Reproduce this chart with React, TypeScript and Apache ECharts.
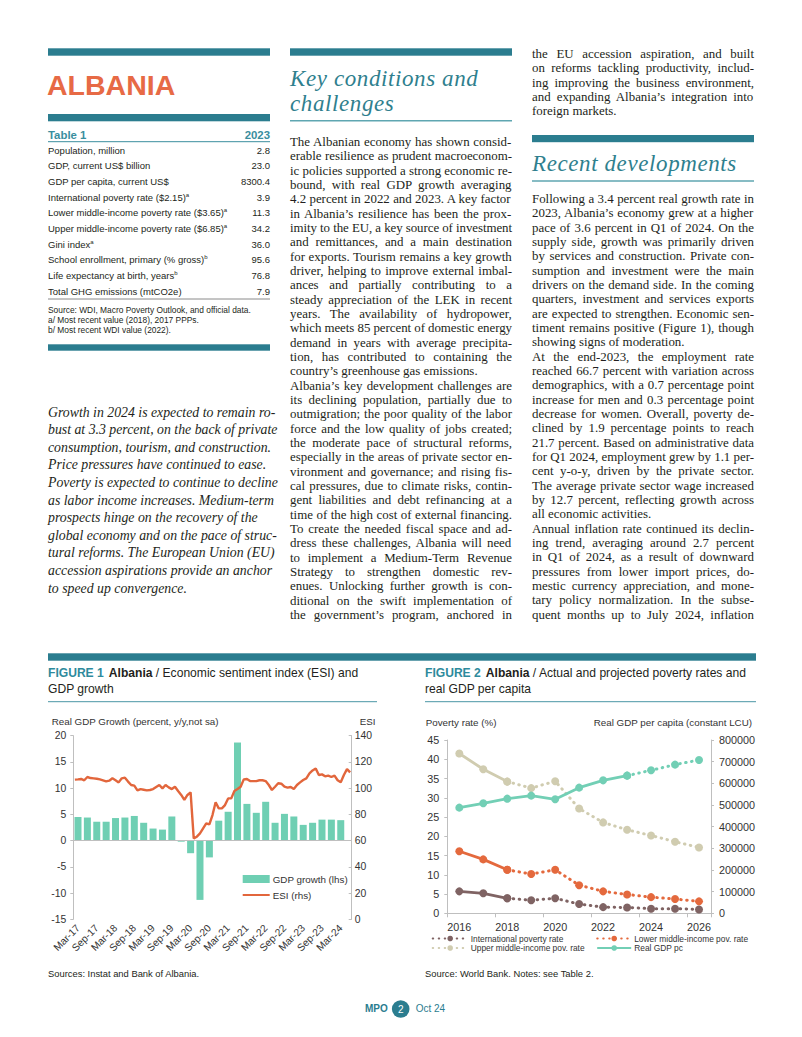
import React, { useEffect, useRef } from "react";
import * as echarts from "echarts";

const SERIF = "'Liberation Serif', 'Times New Roman', serif";
const SANS = "'Liberation Sans', Arial, sans-serif";
const TEAL = "#2b7d8f";
const TEAL_TXT = "#2e8a9c";
const HEAD_TEAL = "#2f7f8e";
const INK = "#231f20";
const BODY_SIZE = 12.9;

// ---------- Table 1 ----------
const tableLabels = [
  "Population, million",
  "GDP, current US$ billion",
  "GDP per capita, current US$",
  "International poverty rate ($2.15)",
  "Lower middle-income poverty rate ($3.65)",
  "Upper middle-income poverty rate ($6.85)",
  "Gini index",
  "School enrollment, primary (% gross)",
  "Life expectancy at birth, years",
  "Total GHG emissions (mtCO2e)",
];
const tableSup = ["", "", "", "a", "a", "a", "a", "b", "b", ""];
const tableValues = ["2.8", "23.0", "8300.4", "3.9", "11.3", "34.2", "36.0", "95.6", "76.8", "7.9"];
const tableNotes = [
  "Source: WDI, Macro Poverty Outlook, and official data.",
  "a/ Most recent value (2018), 2017 PPPs.",
  "b/ Most recent WDI value (2022).",
];

// ---------- Text ----------
const summaryLines = [
  "Growth in 2024 is expected to remain ro-",
  "bust at 3.3 percent, on the back of private",
  "consumption, tourism, and construction.",
  "Price pressures have continued to ease.",
  "Poverty is expected to continue to decline",
  "as labor income increases. Medium-term",
  "prospects hinge on the recovery of the",
  "global economy and on the pace of struc-",
  "tural reforms. The European Union (EU)",
  "accession aspirations provide an anchor",
  "to speed up convergence.",
];

// "|" at the end marks the last line of a paragraph (not justified)
const keyLines = [
  "The Albanian economy has shown consid-",
  "erable resilience as prudent macroeconom-",
  "ic policies supported a strong economic re-",
  "bound, with real GDP growth averaging",
  "4.2 percent in 2022 and 2023. A key factor",
  "in Albania’s resilience has been the prox-",
  "imity to the EU, a key source of investment",
  "and remittances, and a main destination",
  "for exports. Tourism remains a key growth",
  "driver, helping to improve external imbal-",
  "ances and partially contributing to a",
  "steady appreciation of the LEK in recent",
  "years. The availability of hydropower,",
  "which meets 85 percent of domestic energy",
  "demand in years with average precipita-",
  "tion, has contributed to containing the",
  "country’s greenhouse gas emissions.|",
  "Albania’s key development challenges are",
  "its declining population, partially due to",
  "outmigration; the poor quality of the labor",
  "force and the low quality of jobs created;",
  "the moderate pace of structural reforms,",
  "especially in the areas of private sector en-",
  "vironment and governance; and rising fis-",
  "cal pressures, due to climate risks, contin-",
  "gent liabilities and debt refinancing at a",
  "time of the high cost of external financing.",
  "To create the needed fiscal space and ad-",
  "dress these challenges, Albania will need",
  "to implement a Medium-Term Revenue",
  "Strategy to strengthen domestic rev-",
  "enues. Unlocking further growth is con-",
  "ditional on the swift implementation of",
  "the government’s program, anchored in",
];
const keyContLines = [
  "the EU accession aspiration, and built",
  "on reforms tackling productivity, includ-",
  "ing improving the business environment,",
  "and expanding Albania’s integration into",
  "foreign markets.|",
];
const recentLines = [
  "Following a 3.4 percent real growth rate in",
  "2023, Albania’s economy grew at a higher",
  "pace of 3.6 percent in Q1 of 2024. On the",
  "supply side, growth was primarily driven",
  "by services and construction. Private con-",
  "sumption and investment were the main",
  "drivers on the demand side. In the coming",
  "quarters, investment and services exports",
  "are expected to strengthen. Economic sen-",
  "timent remains positive (Figure 1), though",
  "showing signs of moderation.|",
  "At the end-2023, the employment rate",
  "reached 66.7 percent with variation across",
  "demographics, with a 0.7 percentage point",
  "increase for men and 0.3 percentage point",
  "decrease for women. Overall, poverty de-",
  "clined by 1.9 percentage points to reach",
  "21.7 percent. Based on administrative data",
  "for Q1 2024, employment grew by 1.1 per-",
  "cent y-o-y, driven by the private sector.",
  "The average private sector wage increased",
  "by 12.7 percent, reflecting growth across",
  "all economic activities.|",
  "Annual inflation rate continued its declin-",
  "ing trend, averaging around 2.7 percent",
  "in Q1 of 2024, as a result of downward",
  "pressures from lower import prices, do-",
  "mestic currency appreciation, and mone-",
  "tary policy normalization. In the subse-",
  "quent months up to July 2024, inflation",
];

// ---------- Figure 1 ----------
const fig1TickLabels = [
  "Mar-17", "Sep-17", "Mar-18", "Sep-18", "Mar-19", "Sep-19", "Mar-20", "Sep-20",
  "Mar-21", "Sep-21", "Mar-22", "Sep-22", "Mar-23", "Sep-23", "Mar-24",
];
const monthNames = ["Jan", "Feb", "Mar", "Apr", "May", "Jun", "Jul", "Aug", "Sep", "Oct", "Nov", "Dec"];
// ESI, monthly, Feb-17 .. Jun-24
const esiMonthly = [
  106.5, 106.7, 107.0, 106.0, 108.5, 107.7, 107.5, 107.2, 106.7, 106.0, 105.2,
  105.7, 107.5, 106.0, 104.4, 107.5, 108.0, 105.0, 102.4, 101.9, 98.3, 99.3, 98.8,
  98.3, 98.6, 99.3, 100.9, 102.4, 99.8, 102.4, 100.6, 99.3, 101.1, 97.8, 94.8,
  91.0, 94.8, 96.8, 61.7, 63.0, 65.5, 69.4, 73.2, 72.4, 79.5, 89.2, 84.6,
  84.6, 87.1, 92.2, 92.2, 97.8, 99.3, 101.1, 106.7, 107.0, 105.4, 105.4, 105.4,
  106.0, 106.0, 105.4, 102.4, 98.6, 101.1, 103.7, 103.4, 101.1, 100.4, 100.9, 99.3,
  102.4, 104.4, 106.2, 107.5, 111.3, 113.5, 115.0, 110.0, 110.5, 109.0, 109.5, 108.5,
  109.5, 106.0, 104.5, 110.0, 114.5, 112.0,
];
// Real GDP growth, quarterly, Q1-17 .. Q1-24
const gdpGrowthQuarterly = [
  4.5, 4.4, 3.6, 3.6,
  4.3, 4.4, 4.7, 3.4,
  2.3, 2.1, 4.6, -0.2,
  -2.4, -11.3, -3.2, 3.8,
  5.5, 18.7, 7.0, 5.3,
  7.4, 3.4, 5.1, 4.6,
  3.0, 3.4, 4.0, 4.0,
  3.9,
];

// ---------- Figure 2 ----------
const fig2Years = ["2016", "2017", "2018", "2019", "2020", "2021", "2022", "2023", "2024", "2025", "2026"];
const intlPoverty = [5.7, 5.2, 3.9, 3.4, 3.9, 2.4, 1.6, 1.5, 1.2, 1.2, 1.0];
const lowerMidPoverty = [16.1, 14.0, 11.3, 10.2, 11.3, 7.3, 5.7, 4.9, 4.2, 3.7, 3.1];
const upperMidPoverty = [41.5, 37.4, 34.2, 32.5, 34.3, 27.2, 23.6, 21.7, 20.2, 18.6, 17.1];
const realGdpPc = [487700, 507700, 529200, 543100, 526200, 580000, 613800, 635400, 660000, 686200, 707700];
const povertyLastActual = 2; // 2018
const gdpLastActual = 7; // 2023

// ---------- helpers ----------
let measureCtx: CanvasRenderingContext2D | null = null;
function textWidth(t: string, font: string): number {
  if (typeof document === "undefined") return 0;
  if (!measureCtx) measureCtx = document.createElement("canvas").getContext("2d");
  if (!measureCtx) return 0;
  measureCtx.font = font;
  return measureCtx.measureText(t).width;
}

function JLine(props: { x: number; y: number; w: number; raw: string; size?: number }) {
  const size = props.size ?? BODY_SIZE;
  const end = props.raw.endsWith("|");
  const text = end ? props.raw.slice(0, -1) : props.raw;
  const font = `${size}px "Liberation Serif"`;
  const nat = textWidth(text, font);
  let ws = 0;
  let ls = 0;
  const diff = props.w - nat;
  if (nat > 0) {
    if (!end && diff > 0) {
      const spaces = (text.match(/ /g) || []).length;
      if (spaces > 0) ws = diff / spaces;
    } else if (diff < 0) {
      ls = diff / text.length;
    }
  }
  return (
    <text
      x={props.x}
      y={props.y}
      fontFamily={SERIF}
      fontSize={size}
      fill={INK}
      style={{ wordSpacing: `${ws}px`, letterSpacing: `${ls}px`, whiteSpace: "pre" }}
    >
      {text}
    </text>
  );
}

function PageText() {
  const rowY0 = 153.5;
  const rowStep = 15.68;
  const headStyle = { letterSpacing: "0.6px" };
  return (
    <svg width={802} height={1037} style={{ position: "absolute", left: 0, top: 0 }}>
      <rect x={0} y={0} width={802} height={1037} fill="#ffffff" />
      {/* column 1 */}
      <rect x={48} y={48.3} width={222} height={7.4} fill={TEAL} />
      <text x={47} y={95} fontFamily={SANS} fontWeight="bold" fontSize={28.5} fill="#e76a45">
        ALBANIA
      </text>
      <rect x={48} y={114} width={222} height={7.3} fill={TEAL} />
      <text x={48} y={138.6} fontFamily={SANS} fontWeight="bold" fontSize={11.4} fill="#3a8e9e">
        Table 1
      </text>
      <text x={270} y={138.6} textAnchor="end" fontFamily={SANS} fontWeight="bold" fontSize={11.4} fill="#3a8e9e">
        2023
      </text>
      <line x1={48} x2={270} y1={141.7} y2={141.7} stroke="#3a8e9e" strokeWidth={1} />
      {tableLabels.map((l, i) => (
        <g key={"tr" + i}>
          <text x={48} y={rowY0 + i * rowStep} fontFamily={SANS} fontSize={9.5} fill={INK}>
            {l}
            {tableSup[i] ? (
              <tspan fontSize={6} dy={-4}>
                {tableSup[i]}
              </tspan>
            ) : null}
          </text>
          <text x={270} y={rowY0 + i * rowStep} textAnchor="end" fontFamily={SANS} fontSize={9.5} fill={INK}>
            {tableValues[i]}
          </text>
        </g>
      ))}
      <line x1={48} x2={270} y1={299} y2={299} stroke="#6d6d6d" strokeWidth={0.8} />
      {tableNotes.map((n, i) => (
        <text key={"tn" + i} x={48} y={313.2 + i * 9.7} fontFamily={SANS} fontSize={8.4} fill={INK}>
          {n}
        </text>
      ))}
      <rect x={48} y={344.3} width={222} height={6.4} fill={TEAL} />
      {summaryLines.map((l, i) => (
        <text
          key={"s" + i}
          x={48}
          y={416.5 + i * 17.6}
          fontFamily={SERIF}
          fontStyle="italic"
          fontSize={13.8}
          fill={INK}
        >
          {l}
        </text>
      ))}

      {/* column 2 */}
      <rect x={290} y={48.3} width={222} height={7.4} fill={TEAL} />
      <text x={290} y={85.6} fontFamily={SERIF} fontStyle="italic" fontSize={23} fill={HEAD_TEAL} style={headStyle}>
        Key conditions and
      </text>
      <text x={290} y={111.2} fontFamily={SERIF} fontStyle="italic" fontSize={23} fill={HEAD_TEAL} style={headStyle}>
        challenges
      </text>
      <line x1={290} x2={512} y1={120.7} y2={120.7} stroke="#5fa6b1" strokeWidth={1.5} />
      {keyLines.map((l, i) => (
        <JLine key={"k" + i} x={290} y={146 + i * 14.33} w={222} raw={l} />
      ))}

      {/* column 3 */}
      {keyContLines.map((l, i) => (
        <JLine key={"kc" + i} x={532} y={58 + i * 14.33} w={222} raw={l} />
      ))}
      <rect x={532} y={135} width={222} height={7.2} fill={TEAL} />
      <text x={532} y={170.7} fontFamily={SERIF} fontStyle="italic" fontSize={23} fill={HEAD_TEAL} style={headStyle}>
        Recent developments
      </text>
      <line x1={532} x2={754} y1={181} y2={181} stroke="#5fa6b1" strokeWidth={1.5} />
      {recentLines.map((l, i) => (
        <JLine key={"r" + i} x={532} y={203 + i * 14.33} w={222} raw={l} />
      ))}

      {/* figures header */}
      <rect x={48} y={653.3} width={708} height={7.4} fill={TEAL} />
      <text x={48} y={677} fontFamily={SANS} fontSize={12.1} fill={INK}>
        <tspan fill={TEAL_TXT} fontWeight="bold">FIGURE 1</tspan>
        <tspan dx={5} fontWeight="bold">Albania</tspan>
        <tspan> / Economic sentiment index (ESI) and</tspan>
      </text>
      <text x={48} y={692.6} fontFamily={SANS} fontSize={12.1} fill={INK}>
        GDP growth
      </text>
      <line x1={48} x2={377} y1={701.7} y2={701.7} stroke="#4a97a6" strokeWidth={1} />
      <text x={425} y={677} fontFamily={SANS} fontSize={12.1} fill={INK}>
        <tspan fill={TEAL_TXT} fontWeight="bold">FIGURE 2</tspan>
        <tspan dx={5} fontWeight="bold">Albania</tspan>
        <tspan> / Actual and projected poverty rates and</tspan>
      </text>
      <text x={425} y={692.6} fontFamily={SANS} fontSize={12.1} fill={INK}>
        real GDP per capita
      </text>
      <line x1={425} x2={756} y1={701.7} y2={701.7} stroke="#4a97a6" strokeWidth={1} />
      <text x={48} y={976.6} fontFamily={SANS} fontSize={9.4} fill={INK}>
        Sources: Instat and Bank of Albania.
      </text>
      <text x={425} y={976.6} fontFamily={SANS} fontSize={9.4} fill={INK}>
        Source: World Bank. Notes: see Table 2.
      </text>

      {/* footer */}
      <text x={365} y={1012} fontFamily={SANS} fontWeight="bold" fontSize={10} fill={TEAL}>
        MPO
      </text>
      <circle cx={400.7} cy={1009} r={8.8} fill={TEAL} />
      <text x={400.7} y={1012.5} textAnchor="middle" fontFamily={SANS} fontSize={10} fill="#ffffff">
        2
      </text>
      <text x={415.7} y={1012} fontFamily={SANS} fontSize={10} fill={TEAL}>
        Oct 24
      </text>
    </svg>
  );
}

function buildOption() {
  const months: string[] = [];
  for (let k = 0; k < esiMonthly.length; k++) {
    const idx = 1 + k; // Feb-17 start
    months.push(`${monthNames[idx % 12]}-${17 + Math.floor(idx / 12)}`);
  }
  const tickSet = new Set(fig1TickLabels);
  const gdpMonthly = months.map((_, i) => ((i - 1) % 3 === 0 ? gdpGrowthQuarterly[(i - 1) / 3] ?? null : null));

  const axisGrey = "#bfbfbf";
  const lbl = "#333333";
  const dotted = [0.5, 5.5];

  const povSeries = (name: string, data: number[], color: string) => [
    {
      name: name + " (actual)",
      type: "line",
      xAxisIndex: 1,
      yAxisIndex: 2,
      data: data.map((v, i) => (i <= povertyLastActual ? v : null)),
      symbol: "circle",
      symbolSize: 8,
      itemStyle: { color },
      lineStyle: { color, width: 2.8 },
      z: 3,
    },
    {
      name,
      type: "line",
      xAxisIndex: 1,
      yAxisIndex: 2,
      data: data.map((v, i) => (i >= povertyLastActual ? v : null)),
      symbol: "circle",
      symbolSize: 8,
      itemStyle: { color },
      lineStyle: { color, width: 3, type: dotted, cap: "round" },
      z: 2,
    },
  ];

  const gdpColor = "#72cfb5";

  return {
    animation: false,
    textStyle: { fontFamily: SANS },
    grid: [
      { left: 73.3, top: 735.7, width: 278.4, height: 183.6, containLabel: false, outerBoundsMode: "none" },
      { left: 447.3, top: 740, width: 263.7, height: 173.3, containLabel: false, outerBoundsMode: "none" },
    ],
    xAxis: [
      {
        type: "category",
        gridIndex: 0,
        data: months,
        boundaryGap: true,
        axisLine: { show: false, onZero: false },
        axisTick: { show: false },
        axisLabel: {
          interval: (_i: number, v: string) => tickSet.has(v),
          rotate: 45,
          fontSize: 10.2,
          color: lbl,
          margin: 7,
          hideOverlap: false,
        },
      },
      {
        type: "category",
        gridIndex: 1,
        data: fig2Years,
        boundaryGap: true,
        axisLine: { show: true, lineStyle: { color: axisGrey } },
        axisTick: { show: true, length: 4, lineStyle: { color: axisGrey } },
        axisLabel: { interval: 1, fontSize: 10.8, color: lbl, margin: 8 },
      },
    ],
    yAxis: [
      {
        type: "value",
        gridIndex: 0,
        min: -15,
        max: 20,
        interval: 5,
        axisLine: { show: true, lineStyle: { color: axisGrey } },
        axisTick: { show: true, length: 3, lineStyle: { color: axisGrey } },
        splitLine: { show: false },
        axisLabel: { fontSize: 10.4, color: lbl, margin: 7 },
      },
      {
        type: "value",
        gridIndex: 0,
        position: "right",
        min: 0,
        max: 140,
        interval: 20,
        axisLine: { show: true, lineStyle: { color: axisGrey } },
        axisTick: { show: true, inside: true, length: 3, lineStyle: { color: axisGrey } },
        splitLine: { show: false },
        axisLabel: { fontSize: 10.4, color: lbl, margin: 3 },
      },
      {
        type: "value",
        gridIndex: 1,
        min: 0,
        max: 45,
        interval: 5,
        axisLine: { show: true, lineStyle: { color: axisGrey } },
        axisTick: { show: true, length: 3, lineStyle: { color: axisGrey } },
        splitLine: { show: false },
        axisLabel: { fontSize: 10.8, color: lbl, margin: 8 },
      },
      {
        type: "value",
        gridIndex: 1,
        position: "right",
        min: 0,
        max: 800000,
        interval: 100000,
        axisLine: { show: true, lineStyle: { color: axisGrey } },
        axisTick: { show: true, length: 3, lineStyle: { color: axisGrey } },
        splitLine: { show: false },
        axisLabel: { fontSize: 10.8, color: lbl, margin: 8, formatter: (v: number) => String(v) },
      },
    ],
    legend: [
      {
        left: 241.7,
        top: 874,
        padding: 0,
        orient: "vertical",
        itemWidth: 27,
        itemHeight: 8,
        itemGap: 6,
        textStyle: { fontSize: 9.8, color: lbl, padding: [0, 0, 0, -2] },
        data: [
          { name: "GDP growth (lhs)", icon: "rect" },
          { name: "ESI (rhs)", itemStyle: { opacity: 0 } },
        ],
      },
      {
        left: 431.7,
        top: 934.5,
        padding: 0,
        orient: "vertical",
        itemWidth: 35,
        itemHeight: 7,
        itemGap: 1.5,
        textStyle: { fontSize: 8.4, color: lbl, padding: [0, 0, 0, -2] },
        data: ["International poverty rate", "Upper middle-income pov. rate"],
      },
      {
        left: 596.2,
        top: 934.5,
        padding: 0,
        orient: "vertical",
        itemWidth: 34,
        itemHeight: 7,
        itemGap: 1.5,
        textStyle: { fontSize: 8.4, color: lbl, padding: [0, 0, 0, -2] },
        data: ["Lower middle-income pov. rate", "Real GDP pc"],
      },
    ],
    graphic: [
      {
        type: "text",
        x: 51.7,
        y: 721.7,
        style: { text: "Real GDP Growth (percent, y/y,not sa)", font: `9.8px ${SANS}`, fill: lbl, verticalAlign: "middle" },
      },
      {
        type: "text",
        x: 375.5,
        y: 721.7,
        style: { text: "ESI", font: `9.8px ${SANS}`, fill: lbl, align: "right", verticalAlign: "middle" },
      },
      {
        type: "text",
        x: 425.7,
        y: 722.3,
        style: { text: "Poverty rate (%)", font: `9.8px ${SANS}`, fill: lbl, verticalAlign: "middle" },
      },
      {
        type: "text",
        x: 752,
        y: 722.3,
        style: {
          text: "Real GDP per capita (constant LCU)",
          font: `9.8px ${SANS}`,
          fill: lbl,
          align: "right",
          verticalAlign: "middle",
        },
      },
    ],
    series: [
      {
        name: "GDP growth (lhs)",
        type: "bar",
        xAxisIndex: 0,
        yAxisIndex: 0,
        data: gdpMonthly,
        barWidth: 7,
        itemStyle: { color: "#6fcfb3" },
        markLine: {
          silent: true,
          symbol: ["none", "none"],
          label: { show: false },
          lineStyle: { color: axisGrey, type: "solid", width: 1 },
          data: [{ yAxis: 0 }],
        },
      },
      {
        name: "ESI (rhs)",
        type: "line",
        xAxisIndex: 0,
        yAxisIndex: 1,
        data: esiMonthly,
        symbol: "none",
        lineStyle: { color: "#e2663c", width: 2.4 },
        itemStyle: { color: "#e2663c" },
      },
      ...povSeries("Upper middle-income pov. rate", upperMidPoverty, "#d0ccb0"),
      {
        name: "Real GDP pc",
        type: "line",
        xAxisIndex: 1,
        yAxisIndex: 3,
        data: realGdpPc.map((v, i) => (i <= gdpLastActual ? v : null)),
        symbol: "circle",
        symbolSize: 8,
        itemStyle: { color: gdpColor },
        lineStyle: { color: gdpColor, width: 2.8 },
        z: 3,
      },
      {
        name: "Real GDP pc (projected)",
        type: "line",
        xAxisIndex: 1,
        yAxisIndex: 3,
        data: realGdpPc.map((v, i) => (i >= gdpLastActual ? v : null)),
        symbol: "circle",
        symbolSize: 8,
        itemStyle: { color: gdpColor },
        lineStyle: { color: gdpColor, width: 3, type: dotted, cap: "round" },
        z: 2,
      },
      ...povSeries("Lower middle-income pov. rate", lowerMidPoverty, "#e4693d"),
      ...povSeries("International poverty rate", intlPoverty, "#7f6363"),
    ],
  };
}

function Charts() {
  const ref = useRef<HTMLDivElement>(null);
  useEffect(() => {
    if (!ref.current) return;
    const chart = echarts.init(ref.current, undefined, { renderer: "svg" });
    chart.setOption(buildOption() as any);
    return () => chart.dispose();
  }, []);
  return <div ref={ref} style={{ position: "absolute", left: 0, top: 0, width: 802, height: 1037 }} />;
}

export default function App() {
  return (
    <div
      style={{
        position: "absolute",
        left: 0,
        top: 0,
        width: 802,
        height: 1037,
        overflow: "hidden",
        background: "#ffffff",
      }}
    >
      <PageText />
      <Charts />
    </div>
  );
}
